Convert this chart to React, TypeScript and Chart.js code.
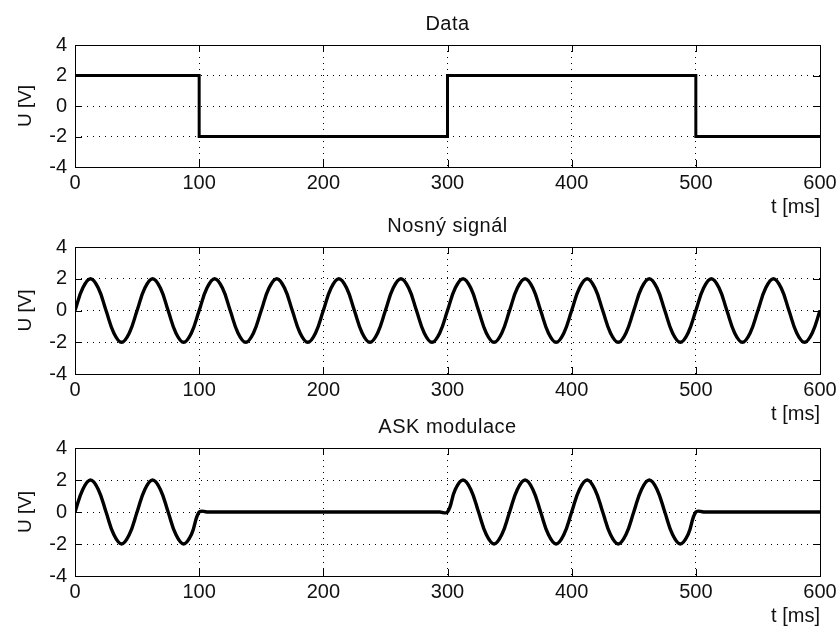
import React, { useEffect, useRef } from "react";
import { Chart, registerables } from "chart.js";

Chart.register(...registerables);

// ---- data ----
const SAMPLE_STEP_MS = 6.25;
const dataTimes = [0, 100, 200, 300, 400, 500, 600];
const dataValues = [2, -2, -2, 2, 2, -2, -2];

const carrierValues = [
  0, 1.41, 2, 1.41, 0, -1.41, -2, -1.41,
  0, 1.41, 2, 1.41, 0, -1.41, -2, -1.41,
  0, 1.41, 2, 1.41, 0, -1.41, -2, -1.41,
  0, 1.41, 2, 1.41, 0, -1.41, -2, -1.41,
  0, 1.41, 2, 1.41, 0, -1.41, -2, -1.41,
  0, 1.41, 2, 1.41, 0, -1.41, -2, -1.41,
  0, 1.41, 2, 1.41, 0, -1.41, -2, -1.41,
  0, 1.41, 2, 1.41, 0, -1.41, -2, -1.41,
  0, 1.41, 2, 1.41, 0, -1.41, -2, -1.41,
  0, 1.41, 2, 1.41, 0, -1.41, -2, -1.41,
  0, 1.41, 2, 1.41, 0, -1.41, -2, -1.41,
  0, 1.41, 2, 1.41, 0, -1.41, -2, -1.41,
  0,
];

const askValues = [
  0, 1.41, 2, 1.41, 0, -1.41, -2, -1.41,
  0, 1.41, 2, 1.41, 0, -1.41, -2, -1.41,
  0, 0, 0, 0, 0, 0, 0, 0,
  0, 0, 0, 0, 0, 0, 0, 0,
  0, 0, 0, 0, 0, 0, 0, 0,
  0, 0, 0, 0, 0, 0, 0, 0,
  0, 1.41, 2, 1.41, 0, -1.41, -2, -1.41,
  0, 1.41, 2, 1.41, 0, -1.41, -2, -1.41,
  0, 1.41, 2, 1.41, 0, -1.41, -2, -1.41,
  0, 1.41, 2, 1.41, 0, -1.41, -2, -1.41,
  0, 0, 0, 0, 0, 0, 0, 0,
  0, 0, 0, 0, 0, 0, 0, 0,
  0,
];

const xTicks = [0, 100, 200, 300, 400, 500, 600];
const yTicks = [-4, -2, 0, 2, 4];
const panelTitles = ["Data", "Nosný signál", "ASK modulace"];
const xAxisTitle = "t [ms]";
const yAxisTitle = "U [V]";

// ---- layout ----
const W = 839;
const H = 628;
const X_AXIS_H = 52;
const FONT = "'Liberation Sans', Arial, sans-serif";
const panels = [
  { top: 0, height: 167 + X_AXIS_H, padTop: 45 },
  { top: 200, height: 174 + X_AXIS_H, padTop: 47 },
  { top: 400, height: 176 + X_AXIS_H, padTop: 48 },
];

const framePlugin = {
  id: "frame",
  afterDraw(chart: any, _args: any, opts: any) {
    const { ctx, chartArea } = chart;
    const { left, right, top, bottom } = chartArea;
    const xs = chart.scales.x;
    const ys = chart.scales.y;
    ctx.save();
    ctx.strokeStyle = "#000";
    ctx.lineWidth = 1;
    ctx.setLineDash([]);
    ctx.strokeRect(Math.round(left) + 0.5, Math.round(top) + 0.5, Math.round(right - left), Math.round(bottom - top));
    const TL = 7;
    ctx.beginPath();
    xTicks.forEach((v) => {
      const px = Math.round(xs.getPixelForValue(v)) + 0.5;
      ctx.moveTo(px, top);
      ctx.lineTo(px, top + TL);
      ctx.moveTo(px, bottom);
      ctx.lineTo(px, bottom - TL);
    });
    yTicks.forEach((v) => {
      const py = Math.round(ys.getPixelForValue(v)) + 0.5;
      ctx.moveTo(left, py);
      ctx.lineTo(left + TL, py);
      ctx.moveTo(right, py);
      ctx.lineTo(right - TL, py);
    });
    ctx.stroke();
    // panel title
    ctx.fillStyle = "#111";
    ctx.font = `20px ${FONT}`;
    try {
      (ctx as any).letterSpacing = "0.5px";
    } catch (e) {}
    ctx.textAlign = "center";
    ctx.textBaseline = "middle";
    ctx.fillText(opts.title, (left + right) / 2, top - 21);
    ctx.restore();
  },
};

function makeConfig(points: { x: number; y: number }[], stepped: boolean, title: string, padTop: number): any {
  return {
    type: "line",
    data: {
      datasets: [
        {
          data: points,
          borderColor: "#000",
          borderWidth: stepped ? 3 : 3.4,
          pointRadius: 0,
          fill: false,
          stepped: stepped ? true : false,
          tension: stepped ? 0 : 0.4,
          cubicInterpolationMode: "default",
        },
      ],
    },
    options: {
      animation: false,
      responsive: false,
      maintainAspectRatio: false,
      layout: { padding: { top: padTop, right: 19, left: 0, bottom: 0 } },
      plugins: {
        legend: { display: false },
        tooltip: { enabled: false },
        frame: { title },
      },
      scales: {
        x: {
          type: "linear",
          min: 0,
          max: 600,
          afterBuildTicks: (s: any) => {
            s.ticks = xTicks.map((v) => ({ value: v }));
          },
          afterFit: (s: any) => {
            s.height = X_AXIS_H;
            s.paddingLeft = 0;
            s.paddingRight = 0;
          },
          ticks: {
            color: "#111",
            font: { family: FONT, size: 20 },
            padding: 4,
            maxRotation: 0,
            autoSkip: false,
          },
          grid: {
            drawTicks: false,
            lineWidth: 1,
            color: (c: any) =>
              c.tick && (c.tick.value === 0 || c.tick.value === 600) ? "rgba(0,0,0,0)" : "#000",
          },
          border: { display: false, dash: [1, 5] },
          title: {
            display: true,
            text: xAxisTitle,
            align: "end",
            color: "#111",
            font: { family: FONT, size: 20 },
            padding: { top: 0, bottom: 0 },
          },
        },
        y: {
          type: "linear",
          min: -4,
          max: 4,
          afterBuildTicks: (s: any) => {
            s.ticks = yTicks.map((v) => ({ value: v }));
          },
          afterFit: (s: any) => {
            s.width = 75;
            s.paddingTop = 0;
            s.paddingBottom = 0;
          },
          ticks: {
            color: "#111",
            font: { family: FONT, size: 20 },
            padding: 8,
          },
          grid: {
            drawTicks: false,
            lineWidth: 1,
            color: (c: any) =>
              c.tick && (c.tick.value === 4 || c.tick.value === -4) ? "rgba(0,0,0,0)" : "#000",
          },
          border: { display: false, dash: [1, 5] },
          title: {
            display: true,
            text: yAxisTitle,
            color: "#111",
            font: { family: FONT, size: 19 },
            padding: { top: 14, bottom: 0 },
          },
        },
      },
    },
    plugins: [framePlugin],
  };
}

function Panel({ index }: { index: number }) {
  const ref = useRef<HTMLCanvasElement | null>(null);
  const p = panels[index];
  useEffect(() => {
    if (!ref.current) return;
    let points: { x: number; y: number }[];
    let stepped = false;
    if (index === 0) {
      points = dataTimes.map((t, i) => ({ x: t, y: dataValues[i] }));
      stepped = true;
    } else {
      const vals = index === 1 ? carrierValues : askValues;
      points = vals.map((v, i) => ({ x: i * SAMPLE_STEP_MS, y: v }));
    }
    const chart = new Chart(ref.current, makeConfig(points, stepped, panelTitles[index], p.padTop));
    return () => chart.destroy();
  }, [index]);
  return (
    <canvas
      ref={ref}
      width={W}
      height={p.height}
      style={{ position: "absolute", left: 0, top: p.top, width: W, height: p.height }}
    />
  );
}

export default function App() {
  return (
    <div
      style={{
        position: "fixed",
        left: 0,
        top: 0,
        width: W,
        height: H,
        background: "#fff",
        overflow: "hidden",
      }}
    >
      <Panel index={0} />
      <Panel index={1} />
      <Panel index={2} />
    </div>
  );
}
